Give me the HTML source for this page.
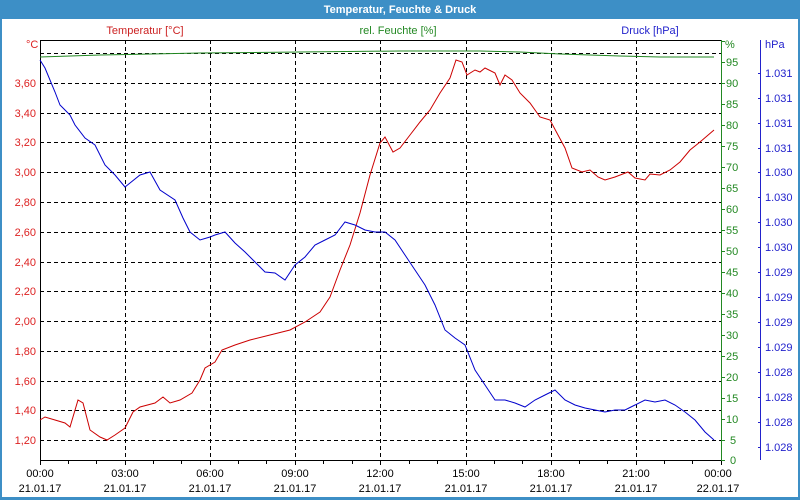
<!DOCTYPE html>
<html><head><meta charset="utf-8"><style>
html,body{margin:0;padding:0;background:#fff}
svg{display:block;font-family:"Liberation Sans",sans-serif;font-size:11px}
</style></head><body>
<svg width="800" height="500" viewBox="0 0 800 500" xmlns="http://www.w3.org/2000/svg">
<rect x="0" y="0" width="800" height="500" fill="#3d8fc6"/>
<rect x="2" y="19" width="796" height="478" fill="#fff"/>
<text x="400" y="13" fill="#fff" font-weight="bold" text-anchor="middle" font-size="11">Temperatur, Feuchte &amp; Druck</text>
<text x="145" y="34" fill="#cc2222" text-anchor="middle">Temperatur [°C]</text>
<text x="398" y="34" fill="#228822" text-anchor="middle">rel. Feuchte [%]</text>
<text x="650" y="34" fill="#2222cc" text-anchor="middle">Druck [hPa]</text>
<text x="26" y="48" fill="#dd2222">°C</text>
<text x="725" y="48" fill="#228822">%</text>
<text x="765" y="48" fill="#2222cc">hPa</text>
<g stroke="#000" stroke-dasharray="4,3" stroke-width="1">
<path d="M40 53.5H721M40 83.5H721M40 113.5H721M40 142.5H721M40 172.5H721M40 202.5H721M40 232.5H721M40 262.5H721M40 291.5H721M40 321.5H721M40 351.5H721M40 381.5H721M40 410.5H721M40 440.5H721"/>
<path d="M125.5 40V460M210.5 40V460M295.5 40V460M380.5 40V460M466.5 40V460M551.5 40V460M636.5 40V460"/>
</g>
<path d="M40.5 40V460.5H721M40 40.5H721" stroke="#000" fill="none"/>
<g stroke="#000"><path d="M40.5 460v5M68.5 460v4M96.5 460v4M125.5 460v5M153.5 460v4M181.5 460v4M210.5 460v5M238.5 460v4M266.5 460v4M295.5 460v5M323.5 460v4M352.5 460v4M380.5 460v5M409.5 460v4M437.5 460v4M466.5 460v5M494.5 460v4M522.5 460v4M551.5 460v5M579.5 460v4M607.5 460v4M636.5 460v5M664.5 460v4M692.5 460v4M721.5 460v5"/></g>
<g fill="#dd2222" text-anchor="end">
<text x="36" y="87">3,60</text><text x="36" y="117">3,40</text><text x="36" y="146">3,20</text><text x="36" y="176">3,00</text><text x="36" y="206">2,80</text><text x="36" y="236">2,60</text><text x="36" y="266">2,40</text><text x="36" y="295">2,20</text><text x="36" y="325">2,00</text><text x="36" y="355">1,80</text><text x="36" y="385">1,60</text><text x="36" y="414">1,40</text><text x="36" y="444">1,20</text>
</g>
<path d="M721.5 40V460" stroke="#228822"/>
<g stroke="#228822"><path d="M721 41.5h4M721 62.5h4M721 83.5h4M721 104.5h4M721 125.5h4M721 146.5h4M721 167.5h4M721 188.5h4M721 209.5h4M721 230.5h4M721 251.5h4M721 272.5h4M721 293.5h4M721 314.5h4M721 335.5h4M721 356.5h4M721 377.5h4M721 398.5h4M721 419.5h4M721 440.5h4M721 460.5h4"/></g>
<g fill="#228822">
<text x="726" y="66">95</text><text x="726" y="87">90</text><text x="726" y="108">85</text><text x="726" y="129">80</text><text x="726" y="150">75</text><text x="726" y="171">70</text><text x="726" y="192">65</text><text x="726" y="213">60</text><text x="726" y="234">55</text><text x="726" y="255">50</text><text x="726" y="276">45</text><text x="726" y="297">40</text><text x="726" y="318">35</text><text x="726" y="339">30</text><text x="726" y="360">25</text><text x="726" y="381">20</text><text x="726" y="402">15</text><text x="726" y="423">10</text><text x="730" y="444">5</text><text x="730" y="464">0</text>
</g>
<path d="M760.5 40V460" stroke="#2222cc"/>
<g fill="#2222cc">
<text x="765" y="77">1.031</text><text x="765" y="102">1.031</text><text x="765" y="127">1.031</text><text x="765" y="152">1.031</text><text x="765" y="176">1.030</text><text x="765" y="201">1.030</text><text x="765" y="226">1.030</text><text x="765" y="251">1.030</text><text x="765" y="276">1.029</text><text x="765" y="301">1.029</text><text x="765" y="326">1.029</text><text x="765" y="351">1.029</text><text x="765" y="376">1.028</text><text x="765" y="401">1.028</text><text x="765" y="426">1.028</text><text x="765" y="451">1.028</text>
</g>
<g stroke="#2222cc"><path d="M758 73.5h3M758 98.5h3M758 123.5h3M758 148.5h3M758 172.5h3M758 197.5h3M758 222.5h3M758 247.5h3M758 272.5h3M758 297.5h3M758 322.5h3M758 347.5h3M758 372.5h3M758 397.5h3M758 422.5h3M758 447.5h3"/></g>
<g text-anchor="middle" fill="#000">
<text x="40" y="477">00:00</text><text x="40" y="492">21.01.17</text>
<text x="125" y="477">03:00</text><text x="125" y="492">21.01.17</text>
<text x="210" y="477">06:00</text><text x="210" y="492">21.01.17</text>
<text x="295" y="477">09:00</text><text x="295" y="492">21.01.17</text>
<text x="380" y="477">12:00</text><text x="380" y="492">21.01.17</text>
<text x="466" y="477">15:00</text><text x="466" y="492">21.01.17</text>
<text x="551" y="477">18:00</text><text x="551" y="492">21.01.17</text>
<text x="636" y="477">21:00</text><text x="636" y="492">21.01.17</text>
<text x="718" y="477">00:00</text><text x="718" y="492">22.01.17</text>
</g>
<polyline fill="none" stroke="#228822" points="40,57 100,55 200,53 300,52 400,51 480,51 520,52 560,54 620,56 660,57 714,57"/>
<polyline fill="none" stroke="#cc0000" points="40,420 45,417 55,420 65,423 70,427 78,400 83,403 90,430 100,437 107,440 115,435 125,428 133,412 140,407 155,403 163,397 170,403 180,400 192,393 200,380 205,368 215,362 222,350 235,345 250,340 270,335 290,330 305,322 320,312 330,297 340,270 350,245 360,213 370,175 380,143 385,137 393,152 400,148 410,135 420,122 430,110 440,93 450,78 456,60 462,62 467,75 475,70 480,72 485,68 495,73 500,85 505,75 512,80 520,93 530,103 540,117 550,120 558,135 565,148 572,168 582,172 590,170 598,177 605,180 615,177 628,172 635,178 645,180 650,174 660,175 670,170 680,162 690,150 700,142 714,130"/>
<polyline fill="none" stroke="#0000cc" points="40,60 45,68 55,92 60,105 65,110 70,115 75,125 85,138 95,145 105,165 115,175 125,187 130,183 140,175 150,172 160,190 175,200 183,218 190,232 200,240 210,237 215,235 225,232 235,243 245,252 255,262 265,272 275,273 285,280 295,265 305,257 315,245 325,240 335,235 345,222 355,225 365,230 375,232 385,232 395,240 405,255 415,270 425,285 435,305 445,330 455,338 465,345 475,370 485,385 495,400 505,400 515,403 525,407 535,400 545,395 555,390 565,400 575,405 585,408 595,410 605,412 615,410 625,410 635,405 645,400 655,402 665,400 675,405 685,412 695,420 705,432 714,440"/>
</svg>
</body></html>
